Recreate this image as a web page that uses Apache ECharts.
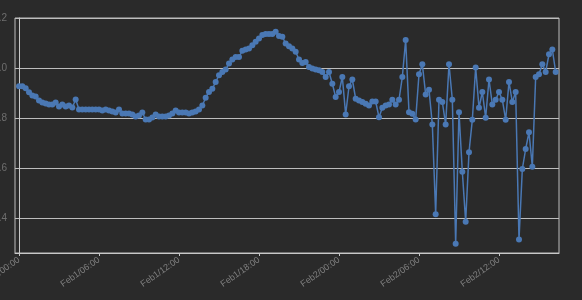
<!DOCTYPE html>
<html>
<head>
<meta charset="utf-8">
<script src="https://cdn.jsdelivr.net/npm/echarts@6/dist/echarts.min.js"></script>
<style>
html,body{margin:0;padding:0;background:#2a2a2a;}
#chart{width:582px;height:300px;}
</style>
</head>
<body>
<div id="chart"></div>
<script>
// sampling: one reading every 15 minutes (0.25 h) starting Feb 1 00:00
const stepHours = 0.25;
const values = [
0.927,0.927,0.919,0.903,0.890,0.886,0.870,0.862,0.858,0.854,
0.854,0.862,0.846,0.854,0.846,0.850,0.842,0.874,0.834,0.834,
0.834,0.834,0.834,0.834,0.834,0.830,0.834,0.830,0.826,0.822,
0.834,0.818,0.818,0.818,0.814,0.806,0.810,0.822,0.794,0.794,
0.802,0.814,0.806,0.806,0.806,0.810,0.818,0.830,0.822,0.822,
0.822,0.818,0.822,0.826,0.834,0.850,0.881,0.904,0.917,0.944,
0.971,0.984,0.994,1.018,1.034,1.044,1.044,1.069,1.074,1.078,
1.091,1.105,1.118,1.132,1.136,1.136,1.136,1.145,1.128,1.125,
1.098,1.087,1.078,1.065,1.034,1.020,1.024,1.004,0.998,0.994,
0.991,0.984,0.964,0.984,0.937,0.884,0.904,0.964,0.814,0.927,
0.954,0.877,0.870,0.864,0.857,0.850,0.866,0.866,0.803,0.841,
0.850,0.854,0.873,0.854,0.873,0.964,1.112,0.823,0.817,0.794,
0.975,1.015,0.894,0.913,0.774,0.415,0.873,0.864,0.774,1.015,
0.873,0.297,0.823,0.585,0.385,0.663,0.793,1.002,0.841,0.904,
0.801,0.954,0.854,0.873,0.904,0.873,0.793,0.944,0.864,0.904,
0.314,0.596,0.676,0.743,0.605,0.964,0.975,1.015,0.984,1.055,
1.074,0.984
];
const tickHours = [0, 6, 12, 18, 24, 30, 36];
const tickLabels = ['Feb1/00:00','Feb1/06:00','Feb1/12:00','Feb1/18:00','Feb2/00:00','Feb2/06:00','Feb2/12:00'];
const yTicks = [0.4, 0.6, 0.8, 1.0, 1.2];

const data = values.map((v, i) => [i * stepHours, v]);

const chart = echarts.init(document.getElementById('chart'), null, {renderer: 'canvas'});
chart.setOption({
  backgroundColor: '#2a2a2a',
  animation: false,
  grid: {left: 15, right: 23, top: 18, bottom: 47, containLabel: false, outerBoundsMode: 'none', show: true, borderColor: '#bdbdbd', borderWidth: 1, backgroundColor: 'transparent'},
  xAxis: {
    type: 'value',
    min: -0.3,
    max: 40.5,
    axisLine: {show: true, onZero: false, lineStyle: {color: '#c8c8c8', width: 1}},
    axisTick: {show: true, length: 3, lineStyle: {color: '#c8c8c8'}, customValues: tickHours},
    splitLine: {show: false},
    axisLabel: {
      customValues: tickHours,
      rotate: 35,
      margin: 6,
      color: '#808080',
      fontSize: 9,
      fontFamily: 'Liberation Sans, Arial, sans-serif',
      formatter: function (val) {
        const idx = tickHours.indexOf(val);
        return idx >= 0 ? tickLabels[idx] : '';
      }
    }
  },
  yAxis: {
    type: 'value',
    min: 0.26,
    max: 1.2,
    splitNumber: 5,
    axisLine: {show: true, lineStyle: {color: '#c8c8c8', width: 1}},
    axisTick: {show: false},
    splitLine: {show: true, lineStyle: {color: '#bdbdbd', width: 1}},
    axisLabel: {
      showMinLabel: false,
      margin: 8,
      color: '#6e6e6e',
      fontSize: 10,
      fontFamily: 'Liberation Sans, Arial, sans-serif',
      formatter: function (v) {
        return yTicks.some(t => Math.abs(t - v) < 1e-6) ? v.toFixed(1) : '';
      }
    }
  },
  series: [{
    type: 'line',
    data: data,
    symbol: 'circle',
    symbolSize: 6,
    showAllSymbol: true,
    lineStyle: {color: '#4a78b4', width: 1.5},
    itemStyle: {color: '#4a78b4'}
  }]
});
</script>
</body>
</html>
